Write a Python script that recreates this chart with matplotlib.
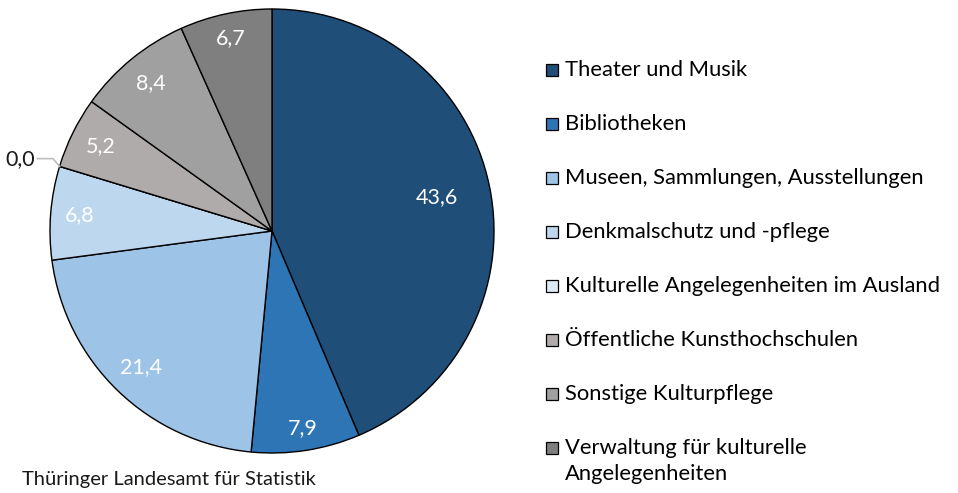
import numpy as np
import matplotlib.pyplot as plt
from matplotlib.patches import Rectangle

plt.rcParams['font.family'] = ['Lato', 'DejaVu Sans']

categories = ["Theater und Musik", "Bibliotheken", "Museen, Sammlungen, Ausstellungen",
              "Denkmalschutz und -pflege", "Kulturelle Angelegenheiten im Ausland",
              "Öffentliche Kunsthochschulen", "Sonstige Kulturpflege",
              "Verwaltung für kulturelle\nAngelegenheiten"]
values = [43.6, 7.9, 21.4, 6.8, 0.0, 5.2, 8.4, 6.7]
colors = ["#1f4e79", "#2e75b6", "#9dc3e6", "#bdd7ee", "#deebf7",
          "#afabab", "#a0a0a0", "#7f7f7f"]
label_radius = [0.76, 0.9, 0.85, 0.87, None, 0.86, 0.86, 0.89]

W, H = 958, 493
fig = plt.figure(figsize=(W / 100, H / 100), dpi=100)

# pie axes: centre (272, 231), radius 222 px
cx, cy, r = 272, 231, 222
ax = fig.add_axes([(cx - r) / W, (H - cy - r) / H, 2 * r / W, 2 * r / H])
wedges, _ = ax.pie(values, colors=colors, startangle=90, counterclock=False,
                   wedgeprops=dict(edgecolor="black", linewidth=1.0), radius=1.0)
ax.set_aspect("equal")
ax.set_xlim(-1, 1)
ax.set_ylim(-1, 1)

for w, v, lr in zip(wedges, values, label_radius):
    ang = np.deg2rad((w.theta1 + w.theta2) / 2)
    txt = f"{v:.1f}".replace(".", ",")
    if lr is None:
        # tiny slice: label outside with leader line
        ex, ey = np.cos(ang), np.sin(ang)
        ax.plot([ex, ex - 0.03, ex - 0.1], [ey, ey + 0.035, ey + 0.035],
                color="#bfbfbf", lw=1.2, clip_on=False)
        ax.text(ex - 0.11, ey + 0.035, txt, ha="right", va="center",
                fontsize=15.5, color="#1a1a1a", clip_on=False)
    else:
        ax.text(lr * np.cos(ang), lr * np.sin(ang), txt, ha="center", va="center",
                fontsize=15.5, color="white")

# legend
y0, dy = 70, 54
for i, (lab, col) in enumerate(zip(categories, colors)):
    y = y0 + i * dy
    fig.add_artist(Rectangle(((546) / W, (H - y - 6) / H), 12 / W, 12 / H,
                             facecolor=col, edgecolor="black", linewidth=0.9,
                             transform=fig.transFigure))
    first, *rest = lab.split("\n")
    fig.text(565 / W, (H - y) / H, first, ha="left", va="center",
             fontsize=15.8, color="black")
    for k, line in enumerate(rest):
        fig.text(565 / W, (H - y - 26 * (k + 1)) / H, line, ha="left", va="center",
                 fontsize=15.8, color="black")

fig.text(22 / W, (H - 480) / H, "Thüringer Landesamt für Statistik",
         ha="left", va="center", fontsize=14.5, color="#1a1a1a")

fig.savefig("out.png", dpi=100, facecolor="white")
